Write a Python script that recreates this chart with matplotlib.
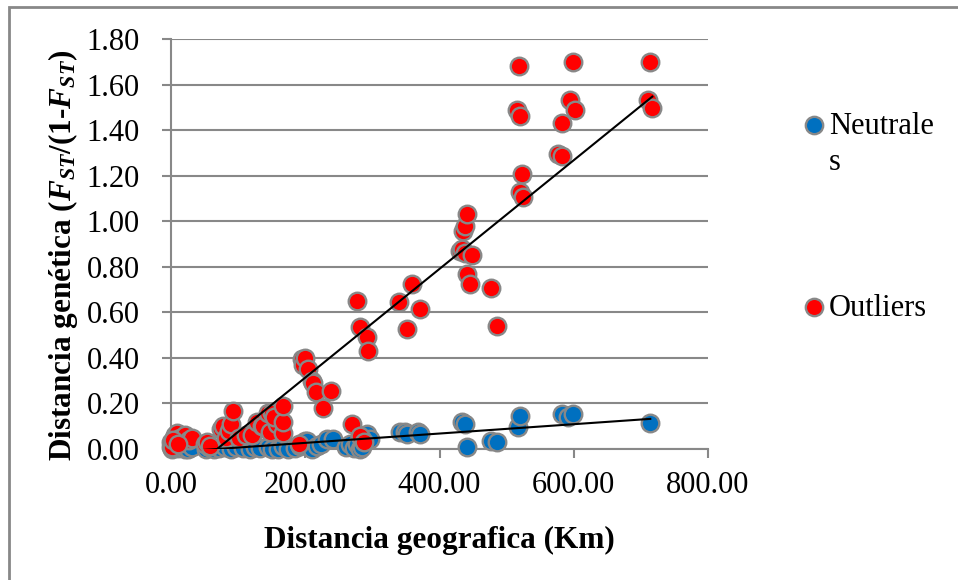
import numpy as np
import matplotlib
matplotlib.use("Agg")
import matplotlib.pyplot as plt
from matplotlib.lines import Line2D
from matplotlib.patches import Rectangle

plt.rcParams['font.family'] = ['Liberation Serif', 'DejaVu Serif']
plt.rcParams['mathtext.fontset'] = 'custom'
plt.rcParams['mathtext.rm'] = 'Liberation Serif'
plt.rcParams['mathtext.it'] = 'Liberation Serif:italic'
plt.rcParams['mathtext.bf'] = 'Liberation Serif:bold'
plt.rcParams['mathtext.bfit'] = 'Liberation Serif:bold:italic'

# geographic distance (km) vs genetic distance, neutral loci
neutral_km = [0, 1, 2, 6, 11, 16, 21, 25, 32, 52, 57, 64, 72, 80, 90, 97, 108, 118,
              125, 133, 144, 151, 159, 167, 174, 184, 192, 199, 203, 210, 217, 224, 232,
              241, 260, 267, 273, 277, 282, 285, 292, 296, 341, 349, 352, 368, 371,
              434, 438, 441, 476, 486, 517, 520, 583, 591, 599, 714]
neutral_fst = [0.01, 0.0, 0.02, 0.01, 0.005, 0.015, 0.0, 0.0, 0.01, 0.0, 0.01, 0.0, 0.005,
               0.01, 0.0, 0.01, 0.005, 0.0, 0.01, 0.005, 0.01, 0.0, 0.0, 0.013, 0.0, 0.005,
               0.013, 0.035, 0.035, 0.0, 0.013, 0.02, 0.044, 0.044, 0.01, 0.02, 0.005, 0.02,
               0.0, 0.01, 0.066, 0.044, 0.073, 0.075, 0.066, 0.073, 0.066,
               0.118, 0.11, 0.008, 0.036, 0.03, 0.096, 0.146, 0.154, 0.14, 0.154, 0.114]

# outlier loci
outlier_km = [0, 2, 4, 6, 9, 13, 17, 21, 27, 32, 3, 11,
              51, 54, 58,
              74, 77, 82, 87, 90, 93, 101, 111, 121, 128, 136, 137, 144, 147, 150, 158,
              153, 167, 167, 167, 190,
              195, 197, 199, 204, 210, 212, 216, 226, 239,
              270, 277, 282, 285, 282, 287, 292, 294,
              339, 352, 359, 371,
              430, 434, 435, 438, 441, 438, 448, 441, 446, 476, 486,
              516, 519, 520, 520, 523, 524,
              577, 583, 583, 595, 599, 602,
              710, 714, 717]
outlier_fst = [0.03, 0.01, 0.05, 0.06, 0.07, 0.05, 0.04, 0.06, 0.04, 0.05, 0.04, 0.02,
               0.02, 0.03, 0.015,
               0.09, 0.10, 0.05, 0.08, 0.11, 0.167, 0.05, 0.06, 0.06, 0.12, 0.10, 0.10, 0.16,
               0.075, 0.16, 0.11, 0.14, 0.07, 0.12, 0.19, 0.02,
               0.395, 0.37, 0.40, 0.35, 0.30, 0.29, 0.25, 0.18, 0.255,
               0.11, 0.65, 0.535, 0.044, 0.057, 0.03, 0.49, 0.43,
               0.645, 0.527, 0.725, 0.615,
               0.87, 0.88, 0.957, 0.98, 1.03, 0.86, 0.85, 0.77, 0.725, 0.705, 0.54,
               1.49, 1.68, 1.46, 1.128, 1.207, 1.106,
               1.295, 1.286, 1.43, 1.53, 1.70, 1.49,
               1.53, 1.70, 1.495]

# linear trend lines (slope, intercept)
neutral_trend = (0.000205, -0.0141)
outlier_trend = (0.002386, -0.1637)

blue = '#0070C0'
red = '#FF0000'
edge = '#888888'

fig = plt.figure(figsize=(9.58, 5.8), dpi=100)
ax = fig.add_axes([171 / 958, 1 - 449 / 580, 537 / 958, 410 / 580])

ax.scatter(neutral_km, neutral_fst, s=160, c=blue, edgecolors=edge, linewidths=1.7, zorder=3,
           clip_on=False)
ax.scatter(outlier_km, outlier_fst, s=160, c=red, edgecolors=edge, linewidths=1.7, zorder=4,
           clip_on=False)

for km, (m, b) in ((neutral_km, neutral_trend), (outlier_km, outlier_trend)):
    xs = np.array([min(km), max(km)])
    ax.plot(xs, m * xs + b, color='black', lw=1.5, zorder=5)

ax.set_xlim(0, 800)
ax.set_ylim(0, 1.8)
ax.set_xticks(np.arange(0, 801, 200))
ax.set_yticks(np.arange(0, 1.81, 0.2))
ax.set_xticklabels([f'{v:.2f}' for v in np.arange(0, 801, 200)])
ax.set_yticklabels([f'{v:.2f}' for v in np.arange(0, 1.81, 0.2)])
ax.tick_params(labelsize=22, color=edge, width=1.5, length=6.5, direction='out')
ax.tick_params(axis='x', pad=9)
ax.tick_params(axis='y', pad=16)
ax.grid(axis='y', color=edge, lw=1.5)
ax.set_axisbelow(True)
for side in ('top', 'right'):
    ax.spines[side].set_visible(False)
for side in ('left', 'bottom'):
    ax.spines[side].set_color(edge)
    ax.spines[side].set_linewidth(1.5)

ax.set_xlabel('Distancia geografica (Km)', fontsize=22.5, fontweight='bold', va='center')
ax.xaxis.set_label_coords(0.499, -0.222)
ax.set_ylabel(r'Distancia genética ($\mathbfit{F}_{\mathbfit{ST}}$/(1-$\mathbfit{F}_{\mathbfit{ST}}$)',
              fontsize=22.5, fontweight='bold', va='center')
ax.yaxis.set_label_coords(-0.202, 0.473)

# legend on the right
for y, col in ((1 - 125 / 580, blue), (1 - 307 / 580, red)):
    fig.add_artist(Line2D([814 / 958], [y], transform=fig.transFigure, marker='o',
                          markersize=12.5, markerfacecolor=col, markeredgecolor=edge,
                          markeredgewidth=1.7, linestyle='none'))
fig.text(829 / 958, 1 - 126 / 580, 'Neutrale', fontsize=22, va='center')
fig.text(829 / 958, 1 - 162 / 580, 's', fontsize=22, va='center')
fig.text(829 / 958, 1 - 308 / 580, 'Outliers', fontsize=22, va='center')

# chart border
fig.add_artist(Rectangle((9 / 958, -0.1), 1.2, 1 - 7 / 580 + 0.1, transform=fig.transFigure,
                         fill=False, edgecolor=edge, lw=2))

fig.savefig('out.png', dpi=100)
